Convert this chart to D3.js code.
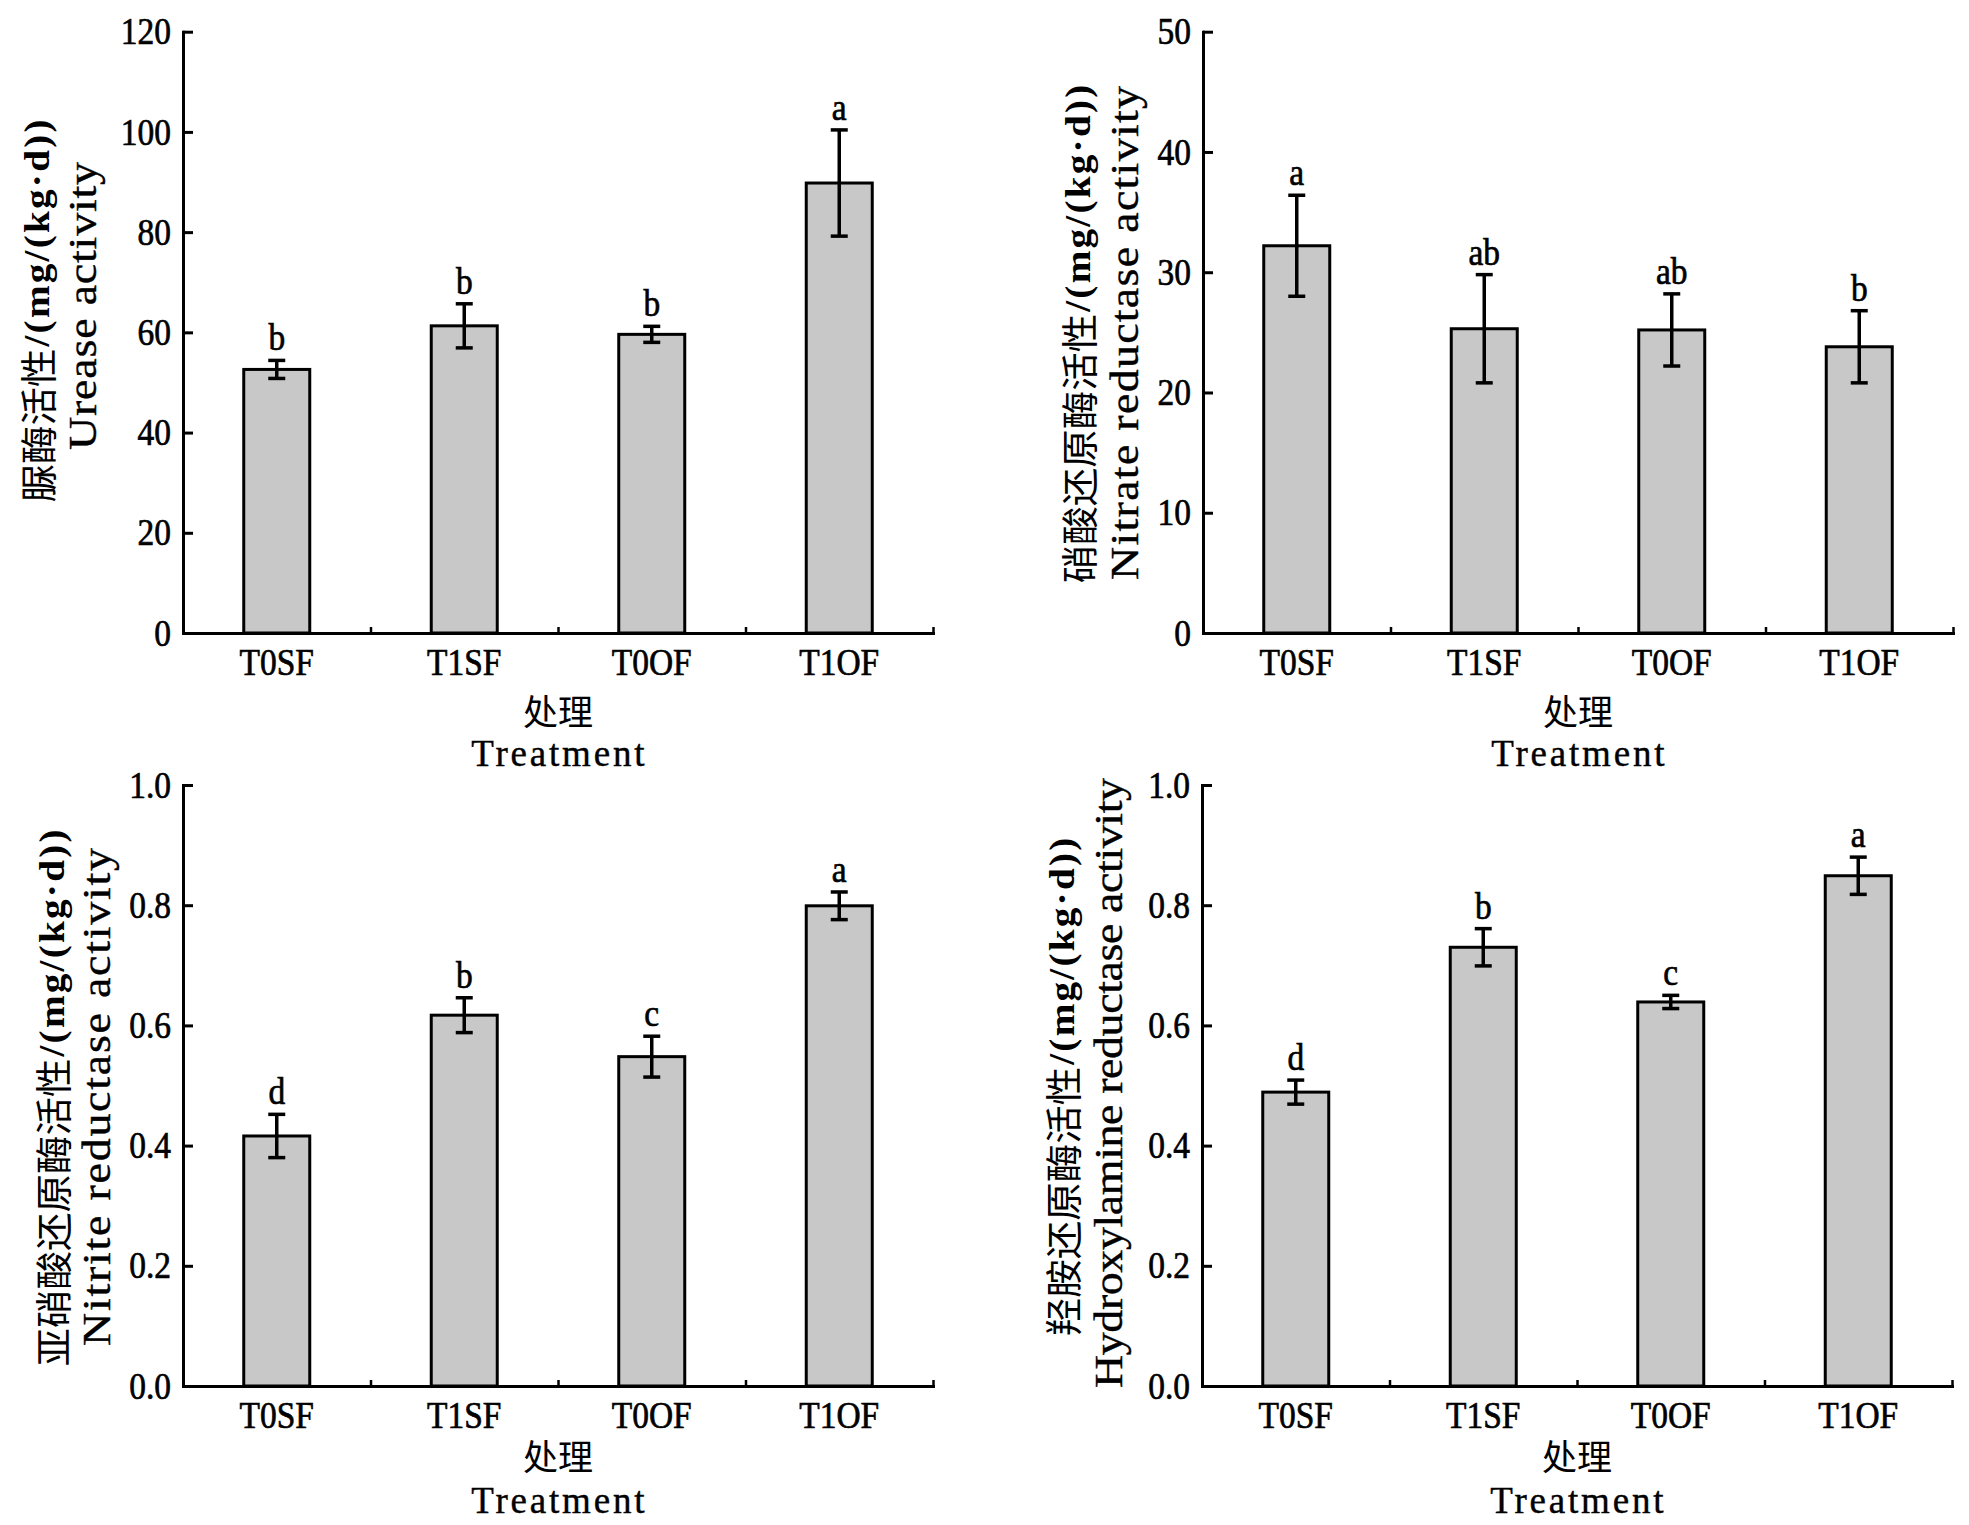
<!DOCTYPE html>
<html>
<head>
<meta charset="utf-8">
<script src="https://cdn.jsdelivr.net/npm/d3@7/dist/d3.min.js"></script>
<style>
  html, body { margin: 0; padding: 0; background: #fff; }
  svg { display: block; }
</style>
</head>
<body>
<svg id="chart" width="1969" height="1525"></svg>
<script>
// ---------- data ----------
const categories = ["T0SF", "T1SF", "T0OF", "T1OF"];

const ureaseValues = [52.6, 61.3, 59.6, 89.8];
const ureaseErrors = [1.8, 4.4, 1.6, 10.6];
const ureaseLetters = ["b", "b", "b", "a"];
const ureaseTicks = [0, 20, 40, 60, 80, 100, 120];

const nitrateValues = [32.2, 25.3, 25.2, 23.8];
const nitrateErrors = [4.2, 4.5, 3.0, 3.0];
const nitrateLetters = ["a", "ab", "ab", "b"];
const nitrateTicks = [0, 10, 20, 30, 40, 50];

const nitriteValues = [0.416, 0.617, 0.548, 0.799];
const nitriteErrors = [0.036, 0.029, 0.034, 0.023];
const nitriteLetters = ["d", "b", "c", "a"];

const hydroxylValues = [0.489, 0.730, 0.639, 0.849];
const hydroxylErrors = [0.020, 0.031, 0.011, 0.031];
const hydroxylLetters = ["d", "b", "c", "a"];

const fractionTicks = [0, 0.2, 0.4, 0.6, 0.8, 1.0];

const xTitleZh = "处理";
const xTitleEn = "Treatment";
const unitText = "/(mg/(kg·d))";

// ---------- layout ----------
const panels = [
  { values: ureaseValues, errors: ureaseErrors, letters: ureaseLetters, ticks: ureaseTicks,
    domain: [0, 120], fmt: d3.format("d"),
    zh: "脲酶活性", en: "Urease activity",
    x0: 183, x1: 933, y0: 31.7, y1: 633,
    zhX: 37, zhY: 310, enX: 82, enY: 306, enL: 288, xtZh: 76, xtEn: 133 },
  { values: nitrateValues, errors: nitrateErrors, letters: nitrateLetters, ticks: nitrateTicks,
    domain: [0, 50], fmt: d3.format("d"),
    zh: "硝酸还原酶活性", en: "Nitrate reductase activity",
    x0: 1203, x1: 1953, y0: 31.7, y1: 633,
    zhX: 1078, zhY: 333, enX: 1124, enY: 333, enL: 494, xtZh: 76, xtEn: 133 },
  { values: nitriteValues, errors: nitriteErrors, letters: nitriteLetters, ticks: fractionTicks,
    domain: [0, 1], fmt: d3.format(".1f"),
    zh: "亚硝酸还原酶活性", en: "Nitrite reductase activity",
    x0: 183, x1: 933, y0: 785, y1: 1386,
    zhX: 52, zhY: 1097, enX: 96, enY: 1097, enL: 498, xtZh: 68, xtEn: 127 },
  { values: hydroxylValues, errors: hydroxylErrors, letters: hydroxylLetters, ticks: fractionTicks,
    domain: [0, 1], fmt: d3.format(".1f"),
    zh: "羟胺还原酶活性", en: "Hydroxylamine reductase activity",
    x0: 1202, x1: 1952, y0: 785, y1: 1386,
    zhX: 1062, zhY: 1086, enX: 1108, enY: 1083, enL: 610, xtZh: 68, xtEn: 127 }
];

const svg = d3.select("#chart");
svg.append("rect").attr("width", 1969).attr("height", 1525).attr("fill", "#fff");

const SERIF = "'Liberation Serif', 'Times New Roman', serif";
const CJK = "'Noto Sans CJK SC', sans-serif";
const SX = 0.88;          // horizontal condensing of serif labels
const ALONG = 1.12;       // stretch along rotated titles
const CJK_ADV = 38.5;     // advance of one CJK char along rotated title
const ASCII_ADV = 19.25;  // advance of one half-width char along rotated title
const TXT_STROKE = 0.7;

function serifStyle(sel, size) {
  sel.attr("font-family", SERIF).attr("font-size", size)
    .attr("fill", "#000").attr("stroke", "#000").attr("stroke-width", TXT_STROKE);
}

panels.forEach(p => {
  const g = svg.append("g");
  const y = d3.scaleLinear().domain(p.domain).range([p.y1, p.y0]);
  const x = d3.scaleBand().domain(categories).range([p.x0, p.x1])
    .paddingInner(0.648).paddingOuter(0.324);
  const xb = d3.scaleLinear().domain([0, categories.length]).range([p.x0, p.x1]);
  const rows = categories.map((c, i) => ({ c, v: p.values[i], e: p.errors[i], l: p.letters[i] }));

  // bars
  g.selectAll("rect.bar").data(rows).join("rect")
    .attr("class", "bar")
    .attr("x", d => x(d.c))
    .attr("y", d => y(d.v))
    .attr("width", x.bandwidth())
    .attr("height", d => y(0) - y(d.v))
    .attr("fill", "#c8c8c8")
    .attr("stroke", "#000")
    .attr("stroke-width", 3);

  // error bars
  const cx = d => x(d.c) + x.bandwidth() / 2;
  const eg = g.append("g").attr("stroke", "#000").attr("stroke-width", 3.5);
  eg.selectAll("line.v").data(rows).join("line").attr("class", "v")
    .attr("x1", cx).attr("x2", cx)
    .attr("y1", d => y(d.v + d.e)).attr("y2", d => y(d.v - d.e));
  eg.selectAll("line.t").data(rows).join("line").attr("class", "t")
    .attr("x1", d => cx(d) - 8.5).attr("x2", d => cx(d) + 8.5)
    .attr("y1", d => y(d.v + d.e)).attr("y2", d => y(d.v + d.e));
  eg.selectAll("line.b").data(rows).join("line").attr("class", "b")
    .attr("x1", d => cx(d) - 8.5).attr("x2", d => cx(d) + 8.5)
    .attr("y1", d => y(d.v - d.e)).attr("y2", d => y(d.v - d.e));

  // significance letters
  g.selectAll("text.sig").data(rows).join("text").attr("class", "sig")
    .attr("transform", d => `translate(${cx(d)},${y(d.v + d.e) - 10}) scale(${SX},1)`)
    .attr("text-anchor", "middle")
    .call(serifStyle, 38)
    .text(d => d.l);

  // y axis
  const ya = g.append("g").attr("transform", `translate(${p.x0},0)`)
    .call(d3.axisLeft(y).tickValues(p.ticks).tickFormat(p.fmt)
      .tickSizeInner(-10).tickSizeOuter(0).tickPadding(12));
  ya.select(".domain").attr("stroke-width", 3).attr("stroke-linecap", "square");
  ya.selectAll(".tick line").attr("stroke-width", 3);
  ya.selectAll(".tick text")
    .attr("x", -12 / SX)
    .attr("transform", `scale(${SX},1)`)
    .call(serifStyle, 38);

  // x axis (labels at band centres)
  const xa = g.append("g").attr("transform", `translate(0,${p.y1})`)
    .call(d3.axisBottom(x).tickSize(0).tickPadding(15));
  xa.select(".domain").attr("stroke-width", 3).attr("stroke-linecap", "square");
  xa.selectAll(".tick text")
    .attr("transform", `scale(${SX},1)`)
    .call(serifStyle, 38);

  // x axis boundary ticks
  const xt = g.append("g").attr("transform", `translate(0,${p.y1})`)
    .call(d3.axisBottom(xb).tickValues(d3.range(1, categories.length + 1))
      .tickSizeInner(-6).tickSizeOuter(0).tickFormat(() => ""));
  xt.select(".domain").remove();
  xt.selectAll(".tick line").attr("stroke-width", 2.5);

  // x title: two lines in one text element
  const mid = (p.x0 + p.x1) / 2;
  const xtText = g.append("text").attr("text-anchor", "middle").attr("fill", "#000");
  xtText.append("tspan")
    .attr("x", mid).attr("y", p.y1 + p.xtZh)
    .attr("dominant-baseline", "central")
    .attr("font-family", CJK).attr("font-size", 35)
    .text(xTitleZh);
  xtText.append("tspan")
    .attr("x", mid + 1.3).attr("y", p.y1 + p.xtEn)
    .attr("font-family", SERIF).attr("font-size", 37)
    .attr("letter-spacing", 2.8)
    .attr("stroke", "#000").attr("stroke-width", 0.4)
    .text(xTitleEn);

  // y title, Chinese line
  const zhLen = p.zh.length * CJK_ADV;
  const asLen = unitText.length * ASCII_ADV;
  const total = zhLen + asLen;
  const tz = g.append("g").attr("transform", `translate(${p.zhX},${p.zhY}) rotate(-90)`);
  tz.append("text")
    .attr("x", -total / 2).attr("y", 0)
    .attr("dominant-baseline", "central")
    .attr("font-family", CJK).attr("font-size", 37).attr("fill", "#000")
    .attr("textLength", zhLen).attr("lengthAdjust", "spacingAndGlyphs")
    .text(p.zh);
  tz.append("text")
    .attr("transform", `translate(${-total / 2 + zhLen + 2},0) scale(${ALONG},1)`)
    .attr("x", 0).attr("y", 0)
    .attr("dominant-baseline", "central")
    .attr("font-family", SERIF).attr("font-size", 35).attr("font-weight", "bold").attr("fill", "#000")
    .attr("textLength", (asLen - 4) / ALONG).attr("lengthAdjust", "spacing")
    .text(unitText);

  // y title, English line
  const te = g.append("g").attr("transform", `translate(${p.enX},${p.enY}) rotate(-90) scale(${ALONG},1)`);
  te.append("text")
    .attr("x", -p.enL / ALONG / 2).attr("y", 0)
    .attr("dominant-baseline", "central")
    .attr("font-family", SERIF).attr("font-size", 41).attr("fill", "#000")
    .attr("stroke", "#000").attr("stroke-width", 0.4)
    .attr("textLength", p.enL / ALONG).attr("lengthAdjust", "spacing")
    .text(p.en);
});
</script>
</body>
</html>
